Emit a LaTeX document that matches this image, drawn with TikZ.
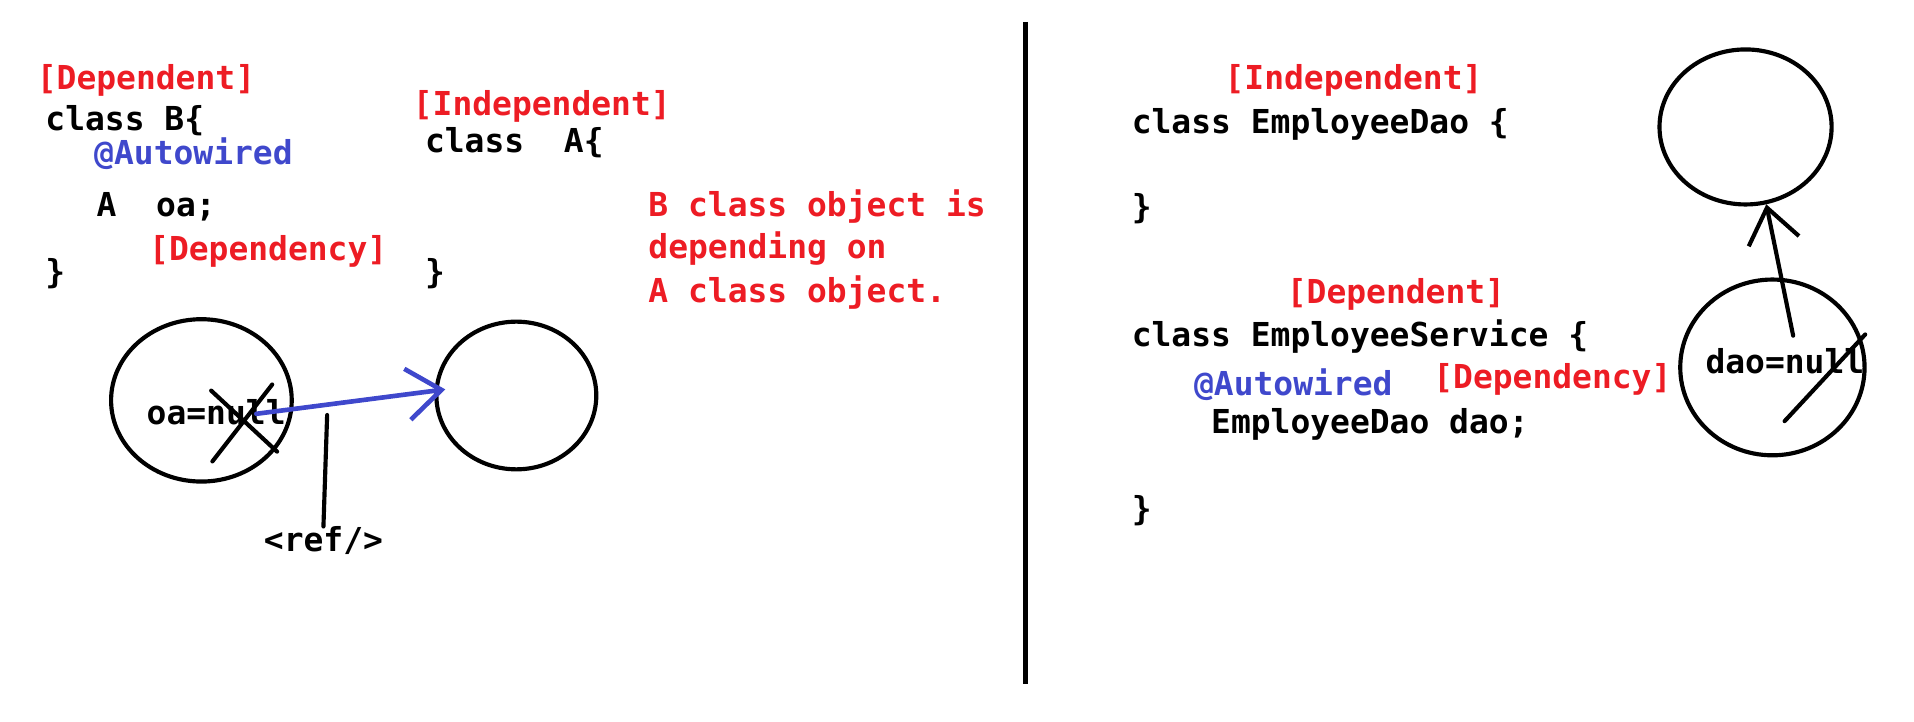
\documentclass[tikz,border=0pt]{standalone}
\usepackage{fontspec}
\newfontfamily\codefont{DejaVu Sans Mono}
\usetikzlibrary{arrows.meta,positioning,shapes.geometric}
\definecolor{paintred}{HTML}{ED1C24}
\definecolor{paintblue}{HTML}{3F48CC}

\begin{document}
\begin{tikzpicture}[x=1pt,y=-1pt,
  txt/.style={font=\codefont\bfseries\fontsize{27}{32}\selectfont,
              inner sep=0pt,anchor=base west},
  redtag/.style={txt,text=paintred},
  bluetag/.style={txt,text=paintblue},
  obj/.style={ellipse,draw,line width=3.4pt,inner sep=0pt},
  pen/.style={line width=3.4pt,line cap=round},
  arr/.style={pen,-{Straight Barb[length=28pt,width=42pt]}}
]
  \useasboundingbox (0,0) rectangle (1568,591);

  % class B depends on class A
  \node[redtag] (depB)   at (30,73)   {[Dependent]};
  \node[txt]    (clsB)   at (37,107)  {class B\{};
  \node[bluetag](autoB)  at (77,135)  {@Autowired};
  \node[txt]    (fieldB) at (79,177)  {A~~oa;};
  \node[redtag] (dcyB)   at (122,213) {[Dependency]};
  \node[txt]    (endB)   at (37,232)  {\}};

  \node[redtag] (indA)   at (338,95)  {[Independent]};
  \node[txt]    (clsA)   at (348,125) {class~~A\{};
  \node[txt]    (endA)   at (348,232) {\}};

  \node[redtag] (note1)  at (531,177) {B class object is};
  \node[redtag] (note2)  at (531,212) {depending on};
  \node[redtag] (note3)  at (531,248) {A class object.};

  % objects
  \node[obj,minimum width=148pt,minimum height=133pt] (objB) at (165,328) {};
  \node[obj,minimum width=131pt,minimum height=121pt] (objA) at (423,324) {};
  \node[txt] (oanull) at (120,348) {oa=null};
  \draw[pen] (173,320) -- (227,370);
  \draw[pen] (223,315) -- (174,378);
  \coordinate (oaend) at (210,339);
  \draw[arr,paintblue,line width=3.8pt] (oaend) -- ([xshift=9pt,yshift=5pt]objA.west);

  \coordinate (refpt) at (268,340);
  \node[txt] (ref) at (216,452) {<ref/>};
  \draw[pen] (refpt) -- (ref.north);

  % divider
  \draw[line width=4pt] (840,18) -- (840,560);

  % EmployeeService depends on EmployeeDao
  \node[redtag] (indDao)   at (1003,73)  {[Independent]};
  \node[txt]    (clsDao)   at (927,109)  {class EmployeeDao \{};
  \node[txt]    (endDao)   at (927,179)  {\}};
  \node[redtag] (depSvc)   at (1054,249) {[Dependent]};
  \node[txt]    (clsSvc)   at (927,284)  {class EmployeeService \{};
  \node[bluetag](autoSvc)  at (978,324)  {@Autowired};
  \node[redtag] (dcySvc)   at (1174,318) {[Dependency]};
  \node[txt]    (fieldSvc) at (992,355)  {EmployeeDao dao;};
  \node[txt]    (endSvc)   at (927,426)  {\}};

  \node[obj,minimum width=141pt,minimum height=127pt] (objDao) at (1430,104) {};
  \node[obj,minimum width=151pt,minimum height=144pt] (objSvc) at (1452,301) {};
  \node[txt] (daonull) at (1397,306) {dao=null};
  \draw[pen] (1528,274) -- (1462,345);
  \coordinate (daoend) at (1469,275);
  \draw[arr] (daoend) -- (objDao.-75);
\end{tikzpicture}
\end{document}
